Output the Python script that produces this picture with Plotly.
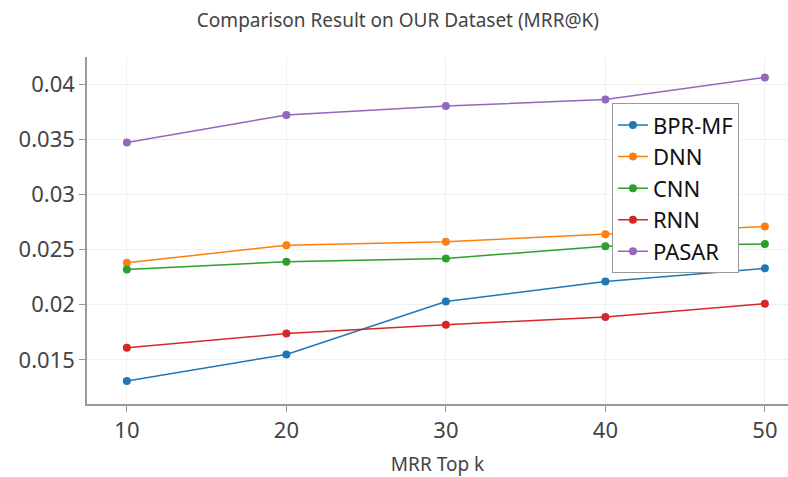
import plotly.graph_objects as go

k = [10, 20, 30, 40, 50]
bpr_mf = [0.0131, 0.0155, 0.0203, 0.0221, 0.0233]
dnn = [0.0238, 0.0254, 0.0257, 0.0264, 0.0271]
cnn = [0.0232, 0.0239, 0.0242, 0.0253, 0.0255]
rnn = [0.0161, 0.0174, 0.0182, 0.0189, 0.0201]
pasar = [0.0347, 0.0372, 0.0380, 0.0386, 0.0406]

series = [("BPR-MF", bpr_mf, "#1f77b4"), ("DNN", dnn, "#ff7f0e"), ("CNN", cnn, "#2ca02c"),
          ("RNN", rnn, "#d62728"), ("PASAR", pasar, "#9467bd")]
yticks = [0.015, 0.02, 0.025, 0.03, 0.035, 0.04]
ytext = ["0.015", "0.02", "0.025", "0.03", "0.035", "0.04"]

fig = go.Figure()
for name, vals, col in series:
    fig.add_trace(go.Scatter(x=k, y=vals, name=name, mode="lines+markers",
                             line=dict(color=col, width=1.5), marker=dict(color=col, size=8)))

fig.update_layout(
    width=788, height=477,
    margin=dict(l=87, r=0, t=57, b=73),
    paper_bgcolor="white", plot_bgcolor="white",
    font=dict(family="Noto Sans", color="#444"),
    title=dict(text="Comparison Result on OUR Dataset (MRR@K)", x=0.505, xanchor="center",
               y=0.958, yanchor="middle", font=dict(size=19, color="#444")),
    legend=dict(x=0.93, y=0.867, xanchor="right", yanchor="top", bordercolor="#999", borderwidth=1,
                bgcolor="white", font=dict(size=22, color="#111"), tracegroupgap=0),
    xaxis=dict(range=[7.5, 51.45], tickvals=k, showgrid=True, gridcolor="#f0f0f0",
               showline=True, linecolor="#999", linewidth=1.5, ticks="outside", ticklen=6,
               tickcolor="#999", tickfont=dict(size=22), automargin=False,
               title=dict(text="MRR Top k", font=dict(size=19), standoff=20), zeroline=False),
    yaxis=dict(range=[0.01101, 0.04245], tickvals=yticks, ticktext=ytext, showgrid=True,
               gridcolor="#f0f0f0", showline=True, linecolor="#999", linewidth=1.5, automargin=False,
               ticks="outside", ticklen=6, tickcolor="#999", tickfont=dict(size=22), zeroline=False),
)
fig.write_html("out.html", config={"displayModeBar": False})
with open("out.html", encoding="utf-8") as f:
    html = f.read()
html = html.replace("<body>", '<body style="margin:0;padding:0;overflow:hidden">', 1)
with open("out.html", "w", encoding="utf-8") as f:
    f.write(html)
